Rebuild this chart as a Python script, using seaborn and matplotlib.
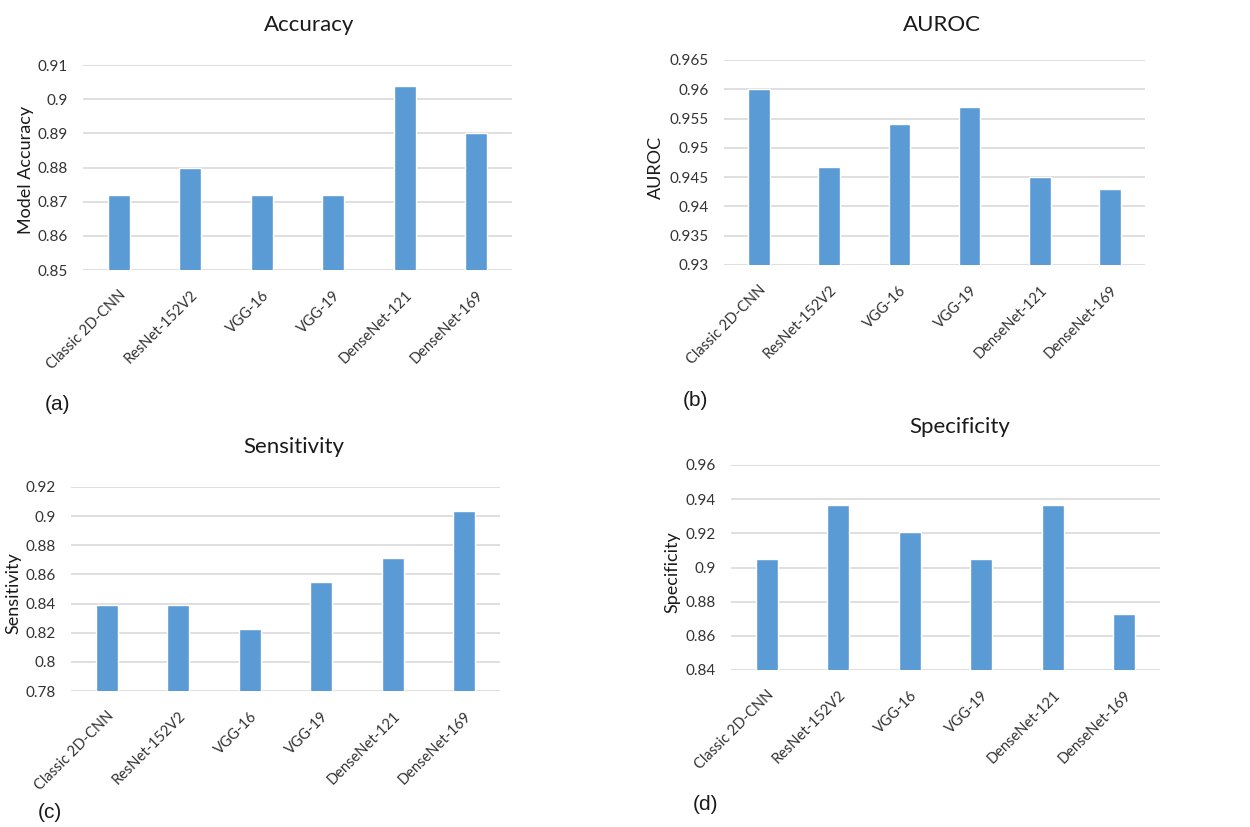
import matplotlib
matplotlib.use("Agg")
import matplotlib.pyplot as plt
import seaborn as sns
import pandas as pd
from matplotlib.ticker import FuncFormatter, MultipleLocator

models = ["Classic 2D-CNN", "ResNet-152V2", "VGG-16", "VGG-19", "DenseNet-121", "DenseNet-169"]
accuracy = [0.872, 0.880, 0.872, 0.872, 0.904, 0.890]
auroc = [0.960, 0.9467, 0.954, 0.957, 0.945, 0.943]
sensitivity = [0.8387, 0.8387, 0.8226, 0.8548, 0.8710, 0.9032]
specificity = [0.9048, 0.9365, 0.9206, 0.9048, 0.9365, 0.8730]

sns.set_theme(style="white")
plt.rcParams["font.family"] = ["Lato", "DejaVu Sans"]

W, H = 1250, 827
fig = plt.figure(figsize=(12.5, 8.27), dpi=100)

BAR = "#5B9BD5"
GRID = "#D9D9D9"
TXT = "#333333"

def px_axes(x0, x1, ytop, ybot):
    return fig.add_axes([x0 / W, 1 - ybot / H, (x1 - x0) / W, (ybot - ytop) / H])

panels = [
    (accuracy, (0.85, 0.91), 0.01, (83, 512, 65, 270), "Accuracy", (309, 25), "Model Accuracy", (26, 170), "(a)", (58, 405)),
    (auroc, (0.93, 0.965), 0.005, (724, 1145, 60, 265), "AUROC", (657, 167), "AUROC", (657, 167), "(b)", (695, 400)),
    (sensitivity, (0.78, 0.92), 0.02, (71, 500, 487, 691), "Sensitivity", (294, 447), "Sensitivity", (13, 593), "(c)", (50, 813)),
    (specificity, (0.84, 0.96), 0.02, (731, 1160, 465, 670), "Specificity", (960, 427), "Specificity", (672, 572), "(d)", (706, 805)),
]
# fix title position for AUROC panel
panels[1] = (auroc, (0.93, 0.965), 0.005, (724, 1145, 60, 265), "AUROC", (942, 25), "AUROC", (656, 167), "(b)", (695, 400))

fmt = FuncFormatter(lambda v, p: f"{round(v, 4):g}")

for vals, ylim, step, (x0, x1, yt, yb), title, tpos, ylab, ypos, tag, tagpos in panels:
    ax = px_axes(x0, x1, yt, yb)
    df = pd.DataFrame({"model": models, "value": vals})
    sns.barplot(data=df, x="model", y="value", color=BAR, width=0.31, saturation=1,
                ax=ax, zorder=3)
    ax.set_ylim(*ylim)
    ax.set_xlim(-0.5, 5.5)
    ax.yaxis.set_major_locator(MultipleLocator(step))
    ax.yaxis.set_major_formatter(fmt)
    ax.grid(axis="y", color=GRID, linewidth=1.2, zorder=0)
    ax.set_axisbelow(True)
    for s in ax.spines.values():
        s.set_visible(False)
    ax.tick_params(axis="y", length=0, labelsize=11, colors=TXT, pad=11)
    ax.tick_params(axis="x", length=0, colors=TXT, pad=13)
    ax.set_xticks(range(len(models)))
    ax.set_xticklabels(models, rotation=45, ha="right", rotation_mode="anchor", fontsize=10.5)
    ax.set_xlabel("")
    ax.set_ylabel("")
    fig.text(tpos[0] / W, 1 - tpos[1] / H, title, ha="center", va="center", fontsize=16, color="#1a1a1a")
    fig.text(ypos[0] / W, 1 - ypos[1] / H, ylab, ha="center", va="center", rotation=90, fontsize=13, color="#1a1a1a")
    fig.text(tagpos[0] / W, 1 - tagpos[1] / H, tag, ha="center", va="center", fontsize=15,
             color="#1a1a1a", family=["Liberation Sans", "DejaVu Sans"])

fig.savefig("out.png", dpi=100, facecolor="white")
